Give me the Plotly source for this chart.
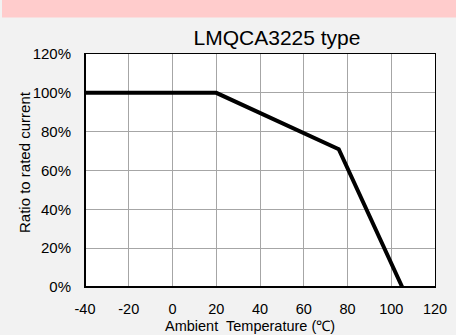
import plotly.graph_objects as go

temps = [-40, 20, 76, 105]
ratio = [100, 100, 71, 0]
x_ticks = [-40, -20, 0, 20, 40, 60, 80, 100, 120]
y_ticks = [0, 20, 40, 60, 80, 100, 120]
y_labels = [f"{v}%" for v in y_ticks]

W, H = 456, 335
L, R, T, B = 85, 21, 54, 48
pw, ph = W - L - R, H - T - B

fig = go.Figure()
fig.add_trace(go.Scatter(x=temps, y=ratio, mode="lines",
                         line=dict(color="black", width=4), showlegend=False,
                         hoverinfo="skip"))

fig.add_shape(type="rect", xref="paper", yref="paper",
              x0=(2 - L) / pw, x1=(W - L) / pw,
              y0=(H - B - 17.5) / ph, y1=(H - B) / ph,
              fillcolor="#ffcccc", line=dict(width=0), layer="below")
fig.add_shape(type="line", xref="x", yref="paper", x0=0, x1=0, y0=0, y1=1,
              line=dict(color="black", width=1), layer="below")

font = "Liberation Sans, Arial, sans-serif"
fig.update_layout(
    width=W, height=H,
    margin=dict(l=L, r=R, t=T, b=B),
    paper_bgcolor="#f2f2f2", plot_bgcolor="white",
    font=dict(family=font, color="black", size=15),
    title=dict(text="LMQCA3225 type", x=277 / W, xref="container", xanchor="center",
               y=(H - 38) / H, yanchor="middle", yref="container",
               font=dict(size=21, family=font, color="black")),
    xaxis=dict(range=[-40, 120], tickvals=x_ticks, ticktext=[str(v) for v in x_ticks],
               showgrid=True, gridcolor="#a6a6a6", gridwidth=1, zeroline=False,
               showline=True, linecolor="black", linewidth=1, mirror=True,
               ticks="", tickfont=dict(size=14.5), ticklabelstandoff=9, automargin=False),
    yaxis=dict(range=[0, 120], tickvals=y_ticks, ticktext=y_labels,
               showgrid=True, gridcolor="#a6a6a6", gridwidth=1, zeroline=False,
               showline=True, linecolor="black", linewidth=1, mirror=True,
               ticks="", tickfont=dict(size=15), ticklabelstandoff=10, automargin=False),
)
fig.add_annotation(text="Ambient  Temperature (\u2103)", xref="paper", yref="paper",
                   x=(250 - L) / pw, y=(H - B - 326) / ph, xanchor="center", yanchor="middle",
                   showarrow=False, font=dict(size=14.5))
fig.add_annotation(text="Ratio to rated current", xref="paper", yref="paper",
                   x=(24 - L) / pw, y=(H - B - 162) / ph, xanchor="center", yanchor="middle",
                   textangle=-90, showarrow=False, font=dict(size=15))
fig.add_shape(type="line", xref="paper", yref="paper", x0=0, x1=1, y0=0, y1=0,
              line=dict(color="black", width=2))
fig.add_shape(type="line", xref="paper", yref="paper", x0=0, x1=0, y0=0, y1=1,
              line=dict(color="black", width=2))
fig.write_html("out.html")
